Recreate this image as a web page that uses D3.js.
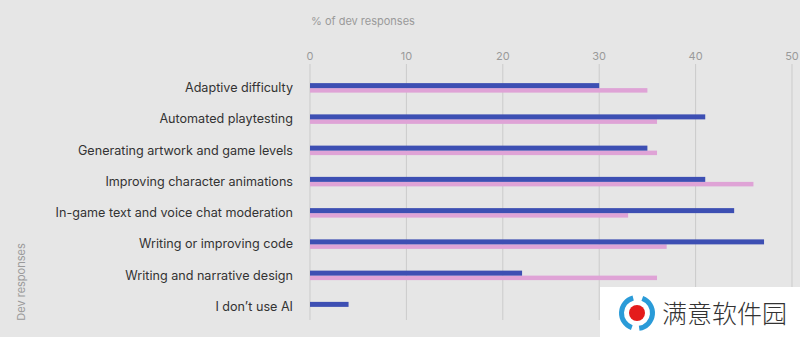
<!DOCTYPE html>
<html><head><meta charset="utf-8">
<script src="https://cdn.jsdelivr.net/npm/d3@7"></script>
<style>body{margin:0;background:#e6e6e6;} svg{display:block;}</style>
</head><body>
<svg id="c" width="800" height="337"></svg>
<script>
const categories = ["Adaptive difficulty","Automated playtesting","Generating artwork and game levels","Improving character animations","In-game text and voice chat moderation","Writing or improving code","Writing and narrative design","I don\u2019t use AI"];
const seriesBlue = [30,41,35,41,44,47.1,22,4];
const seriesPink = [35,36,36,46,33,37,36,0];
const xTicks = [0,10,20,30,40,50];

const svg = d3.select("#c");
svg.append("rect").attr("width",800).attr("height",337).attr("fill","#e6e6e6");
const x = d3.scaleLinear().domain([0,50]).range([310,792]);
const y = d3.scaleBand().domain(categories).range([72,322]);

// gridlines
svg.append("g").selectAll("line").data(xTicks).join("line")
  .attr("x1",d=>x(d)).attr("x2",d=>x(d)).attr("y1",64).attr("y2",320)
  .attr("stroke","#cbcbcb").attr("stroke-width",1);

// tick labels
svg.append("g").selectAll("text").data(xTicks).join("text")
  .attr("x",d=>x(d)).attr("y",60).attr("text-anchor","middle")
  .attr("font-family","Inter, 'Noto Sans', sans-serif").attr("font-size",11)
  .attr("fill","#9a9a9a").text(d=>d);

svg.append("text").attr("x",311).attr("y",25).attr("font-family","Inter, 'Noto Sans', sans-serif")
  .attr("font-size",11).attr("fill","#9a9a9a").text("% of dev responses");

svg.append("text").attr("transform","translate(25,282) rotate(-90)").attr("text-anchor","middle")
  .attr("font-family","Inter, 'Noto Sans', sans-serif").attr("font-size",11).attr("fill","#9a9a9a").text("Dev responses");

// category labels
svg.append("g").selectAll("text").data(categories).join("text")
  .attr("x",293).attr("y",d=>y(d)+y.bandwidth()/2+4.5).attr("text-anchor","end")
  .attr("font-family","Inter, 'Noto Sans', sans-serif").attr("font-size",12.6)
  .attr("fill","#333").text(d=>d);

// pink bars
svg.append("g").selectAll("rect").data(categories).join("rect")
  .attr("x",x(0)).attr("y",d=>y(d)+y.bandwidth()/2+0.5).attr("height",4.5)
  .attr("width",(d,i)=>x(seriesPink[i])-x(0)).attr("fill","#dfa3d6");
// blue bars
svg.append("g").selectAll("rect").data(categories).join("rect")
  .attr("x",x(0)).attr("y",d=>y(d)+y.bandwidth()/2-4.5).attr("height",5)
  .attr("width",(d,i)=>x(seriesBlue[i])-x(0)).attr("fill","#3d4fb3");

// watermark overlay
const wm = svg.append("g");
wm.append("rect").attr("x",600).attr("y",287).attr("width",200).attr("height",50).attr("fill","#ffffff");
wm.append("path").attr("d",d3.arc()({innerRadius:13,outerRadius:18,startAngle:-2.8,endAngle:-0.25}))
  .attr("transform","translate(637,313)").attr("fill","#2a9bd8");
wm.append("path").attr("d",d3.arc()({innerRadius:13,outerRadius:18,startAngle:0.35,endAngle:3.0}))
  .attr("transform","translate(637,313)").attr("fill","#2a9bd8");
wm.append("circle").attr("cx",637).attr("cy",313).attr("r",8).attr("fill","#e41b1b");
wm.append("text").attr("x",662).attr("y",323).attr("font-family","'Noto Sans CJK SC', sans-serif")
  .attr("font-size",25).attr("font-weight",300).attr("fill","#333").text("满意软件园");
</script>
</body></html>
